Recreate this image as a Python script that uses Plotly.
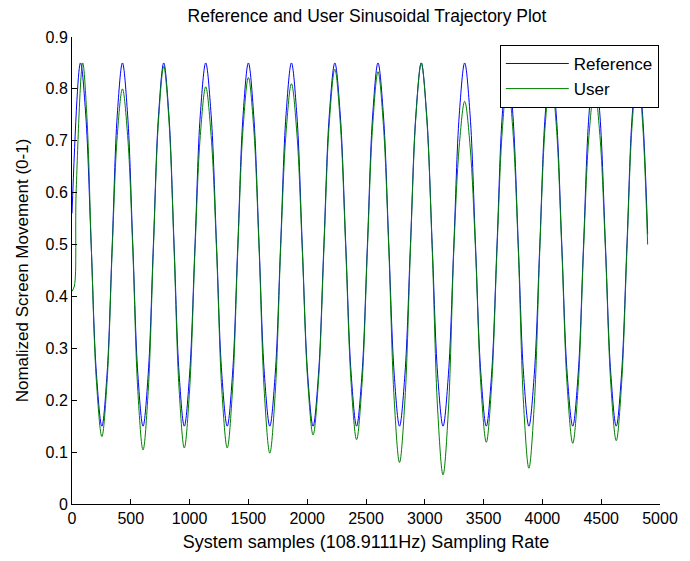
import plotly.graph_objects as go

# --- data (samples, normalized value) ---
ref_x = [0,
         72, 117, 163, 208, 254, 298, 342, 385,
         429, 473, 517, 560, 604, 648, 692, 736,
         780, 824, 868, 911, 955, 1000, 1046, 1091,
         1137, 1183, 1229, 1274, 1320, 1365, 1410, 1455,
         1500, 1545, 1591, 1636, 1682, 1728, 1774, 1820,
         1866, 1912, 1958, 2004, 2050, 2096, 2142, 2188,
         2235, 2281, 2328, 2374, 2420, 2466, 2512, 2557,
         2602, 2648, 2694, 2740, 2785, 2831, 2878, 2924,
         2970, 3016, 3063, 3109, 3155, 3201, 3247, 3293,
         3339, 3385, 3431, 3477, 3523, 3568, 3614, 3659,
         3704, 3749, 3795, 3840, 3885, 3931, 3978, 4024,
         4071, 4118, 4165, 4211, 4258, 4304, 4350, 4396,
         4443, 4489, 4536, 4582, 4628, 4673, 4719, 4764,
         4810, 4852, 4895]
ref_y = [0.56,
         0.85, 0.75, 0.50, 0.25, 0.15, 0.25, 0.50, 0.75,
         0.85, 0.75, 0.50, 0.25, 0.15, 0.25, 0.50, 0.75,
         0.85, 0.75, 0.50, 0.25, 0.15, 0.25, 0.50, 0.75,
         0.85, 0.75, 0.50, 0.25, 0.15, 0.25, 0.50, 0.75,
         0.85, 0.75, 0.50, 0.25, 0.15, 0.25, 0.50, 0.75,
         0.85, 0.75, 0.50, 0.25, 0.15, 0.25, 0.50, 0.75,
         0.85, 0.75, 0.50, 0.25, 0.15, 0.25, 0.50, 0.75,
         0.85, 0.75, 0.50, 0.25, 0.15, 0.25, 0.50, 0.75,
         0.85, 0.75, 0.50, 0.25, 0.15, 0.25, 0.50, 0.75,
         0.85, 0.75, 0.50, 0.25, 0.15, 0.25, 0.50, 0.75,
         0.85, 0.75, 0.50, 0.25, 0.15, 0.25, 0.50, 0.75,
         0.85, 0.75, 0.50, 0.25, 0.15, 0.25, 0.50, 0.75,
         0.85, 0.75, 0.50, 0.25, 0.15, 0.25, 0.50, 0.75,
         0.85, 0.75, 0.52]

user_x = [0, 20, 35,
          91, 127, 165, 208, 254, 298, 342, 385,
          429, 473, 517, 560, 604, 648, 692, 736,
          780, 824, 868, 911, 955, 1000, 1046, 1091,
          1137, 1183, 1229, 1274, 1320, 1365, 1410, 1455,
          1500, 1545, 1591, 1636, 1682, 1728, 1774, 1820,
          1866, 1912, 1958, 2004, 2050, 2096, 2142, 2188,
          2235, 2281, 2328, 2374, 2420, 2466, 2512, 2557,
          2602, 2648, 2694, 2740, 2785, 2831, 2878, 2924,
          2970, 3016, 3063, 3109, 3155, 3201, 3247, 3293,
          3339, 3385, 3431, 3477, 3523, 3568, 3614, 3659,
          3704, 3749, 3795, 3840, 3885, 3931, 3978, 4024,
          4071, 4118, 4165, 4211, 4258, 4304, 4350, 4396,
          4443, 4489, 4536, 4582, 4628, 4673, 4719, 4764,
          4810, 4852, 4895]
user_y = [0.41, 0.42, 0.60,
          0.85, 0.745, 0.49, 0.235, 0.130, 0.235, 0.49, 0.71,
          0.80, 0.71, 0.49, 0.217, 0.104, 0.217, 0.49, 0.74,
          0.843, 0.74, 0.49, 0.22, 0.108, 0.22, 0.49, 0.71,
          0.804, 0.71, 0.49, 0.22, 0.108, 0.22, 0.49, 0.725,
          0.822, 0.725, 0.49, 0.213, 0.098, 0.213, 0.49, 0.715,
          0.81, 0.715, 0.49, 0.238, 0.133, 0.238, 0.49, 0.735,
          0.838, 0.735, 0.49, 0.231, 0.124, 0.231, 0.49, 0.73,
          0.833, 0.73, 0.49, 0.20, 0.080, 0.20, 0.49, 0.745,
          0.85, 0.745, 0.49, 0.183, 0.056, 0.183, 0.49, 0.69,
          0.776, 0.69, 0.49, 0.228, 0.119, 0.228, 0.49, 0.72,
          0.82, 0.72, 0.49, 0.192, 0.069, 0.192, 0.49, 0.73,
          0.83, 0.73, 0.49, 0.226, 0.117, 0.226, 0.49, 0.71,
          0.80, 0.71, 0.49, 0.23, 0.122, 0.23, 0.49, 0.735,
          0.84, 0.735, 0.50]

y_ticks = [0, 0.1, 0.2, 0.3, 0.4, 0.5, 0.6, 0.7, 0.8, 0.9]
y_tick_text = ["0", "0.1", "0.2", "0.3", "0.4", "0.5", "0.6", "0.7", "0.8", "0.9"]
x_ticks = [0, 500, 1000, 1500, 2000, 2500, 3000, 3500, 4000, 4500, 5000]

FONT = "Liberation Sans, Arial, sans-serif"

fig = go.Figure()
fig.add_trace(go.Scatter(x=ref_x, y=ref_y, mode="lines", name="Reference",
                         line=dict(color="#0000FF", width=1, shape="spline", smoothing=1.0)))
fig.add_trace(go.Scatter(x=user_x, y=user_y, mode="lines", name="User",
                         line=dict(color="#008000", width=1, shape="spline", smoothing=1.0)))

axis_common = dict(showline=True, linecolor="black", linewidth=1, mirror=False,
                   ticks="inside", ticklen=5, tickcolor="black", tickwidth=1,
                   showgrid=False, zeroline=False,
                   tickfont=dict(family=FONT, size=16, color="black"))

fig.update_layout(
    width=690, height=561,
    margin=dict(l=72, r=24, t=37, b=56),
    paper_bgcolor="white", plot_bgcolor="white",
    font=dict(family=FONT, size=16, color="black"),
    title=dict(text="Reference and User Sinusoidal Trajectory Plot",
               x=(367 / 690), xanchor="center", y=1 - 16 / 561, yanchor="middle",
               font=dict(family=FONT, size=17.5, color="black")),
    xaxis=dict(range=[0, 5000], tickvals=x_ticks,
               title=dict(text="System samples (108.9111Hz) Sampling Rate", standoff=9,
                          font=dict(family=FONT, size=18)),
               **axis_common),
    yaxis=dict(range=[0, 0.9], tickvals=y_ticks, ticktext=y_tick_text,
               title=dict(text="Nomalized Screen Movement (0-1)", standoff=12,
                          font=dict(family=FONT, size=17)),
               **axis_common),
    legend=dict(x=0.998, xanchor="right", y=0.983, yanchor="top",
                bgcolor="white", bordercolor="black", borderwidth=1,
                font=dict(family=FONT, size=17, color="black"),
                itemwidth=63, tracegroupgap=0),
    showlegend=True,
)

fig.write_html("out.html")
